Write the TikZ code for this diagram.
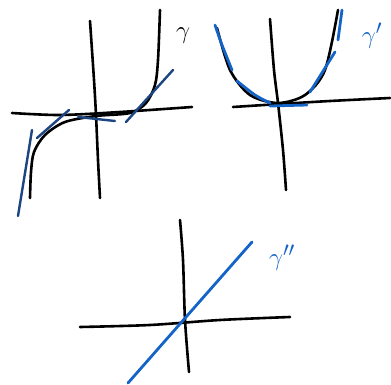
\documentclass[tikz,border=0pt]{standalone}
\begin{document}
\begin{tikzpicture}[x=1pt,y=-1pt,line cap=round,line join=round,
  ax/.style={black,line width=2.6pt},
  crv/.style={black,line width=2.6pt},
  dk/.style={draw={rgb,255:red,28;green,70;blue,130},line width=2.4pt},
  bl/.style={draw={rgb,255:red,20;green,100;blue,200},line width=2.8pt},
  lab/.style={font=\fontsize{30}{30}\selectfont}]
\useasboundingbox (0,0) rectangle (391,385);
% ---------- top-left: gamma ----------
\draw[ax] plot[smooth] coordinates {(12,113) (60,115) (120,112) (192,107)};
\draw[ax] plot[smooth] coordinates {(90,21) (94,80) (96,115) (98,160) (100,198)};
\draw[crv] plot[smooth] coordinates {(30,198) (31,172) (34,152) (45,135) (65,122) (96,116) (130,113) (146,103) (155,85) (158,60) (160,10)};
\draw[dk] (18,216) -- (32,130);
\draw[dk] (37,138) -- (69,110);
\draw[dk] (78,117) -- (115,121);
\draw[dk] (126,122) -- (173,70);
\node[lab,font=\fontsize{26}{26}\selectfont] (g) at (183,36) {$\gamma$};
% ---------- top-right: gamma' ----------
\draw[ax] plot[smooth] coordinates {(233,107) (280,104) (330,101) (390,98)};
\draw[ax] plot[smooth] coordinates {(270,19) (274,70) (278,103) (283,150) (286,190)};
\draw[crv] plot[smooth] coordinates {(217,28) (230,70) (250,95) (278,103) (305,95) (325,70) (338,10)};
\draw[bl] plot[smooth] coordinates {(215,25) (222,45) (232,70)};
\draw[bl] plot[smooth] coordinates {(237,81) (255,95) (270,103)};
\draw[bl] (270,106) -- (307,105);
\draw[bl] (310,92) -- (335,52);
\draw[bl] (338,40) -- (342,10);
\node[lab,text={rgb,255:red,20;green,100;blue,200}] (g1) at (372,36) {$\gamma'$};
% ---------- bottom: gamma'' ----------
\draw[ax] plot[smooth] coordinates {(80,327) (150,325) (220,320) (290,317)};
\draw[ax] plot[smooth] coordinates {(180,220) (183,260) (185,320) (189,372)};
\draw[bl] (128,383) -- (252,242);
\node[lab,text={rgb,255:red,20;green,100;blue,200}] (g2) at (282,258) {$\gamma''$};
\end{tikzpicture}
\end{document}
